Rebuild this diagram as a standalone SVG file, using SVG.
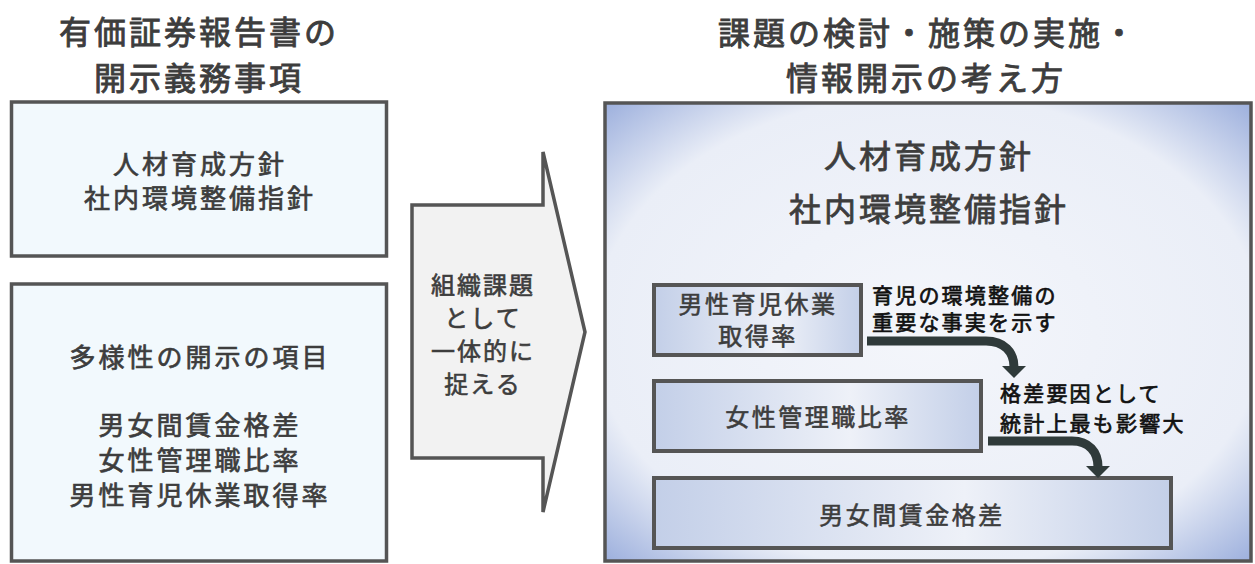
<svg xmlns="http://www.w3.org/2000/svg" width="1255" height="564" viewBox="0 0 1255 564">
<defs>
<style>
text{font-family:"Noto Sans CJK JP","Noto Sans",sans-serif;dominant-baseline:central;text-anchor:middle;font-weight:400}
.hd{font-size:32px;fill:#3d3d3d;stroke:#3d3d3d;stroke-width:0.9;letter-spacing:3px}
.lt{font-size:26px;fill:#3d3d3d;stroke:#3d3d3d;stroke-width:0.7;letter-spacing:3px}
.at{font-size:24px;fill:#3d3d3d;stroke:#3d3d3d;stroke-width:0.6;letter-spacing:2px}
.rt{font-size:32px;fill:#3d3d3d;stroke:#3d3d3d;stroke-width:0.8;letter-spacing:3px}
.it{font-size:24px;fill:#3d3d3d;stroke:#3d3d3d;stroke-width:0.6;letter-spacing:2.5px}
.an{font-size:21px;fill:#111;stroke:#111;stroke-width:0.7;letter-spacing:2.2px;text-anchor:start}
.lbox{fill:#f2f9fd;stroke:#555;stroke-width:3.5}
.ibox{fill:url(#ig);stroke:#555;stroke-width:4}
.con{fill:none;stroke:#2f3a3a;stroke-width:9}
.head{fill:#2f3a3a}
</style>
<radialGradient id="bg" cx="50%" cy="50%" r="72%">
<stop offset="0" stop-color="#f4f6fb"/>
<stop offset="0.72" stop-color="#eaeef7"/>
<stop offset="1" stop-color="#97abdb"/>
</radialGradient>
<linearGradient id="ig" x1="0" y1="0" x2="1" y2="0">
<stop offset="0" stop-color="#c3cfe8"/>
<stop offset="0.6" stop-color="#eef1f8"/>
<stop offset="1" stop-color="#c3cfe8"/>
</linearGradient>
</defs>
<rect width="1255" height="564" fill="#fff"/>
<g id="header-left">
<text class="hd" x="199" y="30">有価証券報告書の</text>
<text class="hd" x="199" y="76">開示義務事項</text>
</g>
<g id="header-right">
<text class="hd" x="928" y="31">課題の検討・施策の実施・</text>
<text class="hd" x="926" y="76">情報開示の考え方</text>
</g>
<g id="left-policy">
<rect class="lbox" x="11.5" y="102" width="375" height="154"/>
<text class="lt" x="200" y="162">人材育成方針</text>
<text class="lt" x="200" y="196">社内環境整備指針</text>
</g>
<g id="left-diversity">
<rect class="lbox" x="11.5" y="284" width="375" height="277"/>
<text class="lt" x="200" y="355">多様性の開示の項目</text>
<text class="lt" x="200" y="423">男女間賃金格差</text>
<text class="lt" x="200" y="458">女性管理職比率</text>
<text class="lt" x="200" y="493">男性育児休業取得率</text>
</g>
<g id="block-arrow">
<polygon points="412,205 543,205 543,152 585,332 543,512 543,458 412,458" fill="#f2f2f2" stroke="#555" stroke-width="3.5" stroke-linejoin="miter"/>
<text class="at" x="483" y="283">組織課題</text>
<text class="at" x="483" y="316">として</text>
<text class="at" x="483" y="349">一体的に</text>
<text class="at" x="483" y="382">捉える</text>
</g>
<g id="right-panel">
<rect x="605" y="103" width="646" height="458" fill="url(#bg)" stroke="#555" stroke-width="3.5"/>
<text class="rt" x="929" y="154">人材育成方針</text>
<text class="rt" x="929" y="207">社内環境整備指針</text>
</g>
<g id="node-paternity">
<rect class="ibox" x="654" y="285" width="207" height="70"/>
<text class="it" x="758" y="302">男性育児休業</text>
<text class="it" x="758" y="334">取得率</text>
</g>
<g id="node-female-managers">
<rect class="ibox" x="654" y="381" width="327" height="70"/>
<text class="it" x="818" y="415">女性管理職比率</text>
</g>
<g id="node-wage-gap">
<rect class="ibox" x="654" y="478" width="517" height="70"/>
<text class="it" x="912" y="513">男女間賃金格差</text>
</g>
<g id="labels">
<text class="an" x="872" y="294">育児の環境整備の</text>
<text class="an" x="872" y="321">重要な事実を示す</text>
<text class="an" x="1000" y="392">格差要因として</text>
<text class="an" x="1000" y="422">統計上最も影響大</text>
</g>
<g id="connectors">
<path class="con" d="M867,341 H986 C1004,341 1014,352 1014,367"/>
<polygon class="head" points="1002,366 1026,366 1014,378"/>
<path class="con" d="M988,441 H1072 C1089,441 1098,452 1098,467"/>
<polygon class="head" points="1086,466 1110,466 1098,478"/>
</g>
</svg>
